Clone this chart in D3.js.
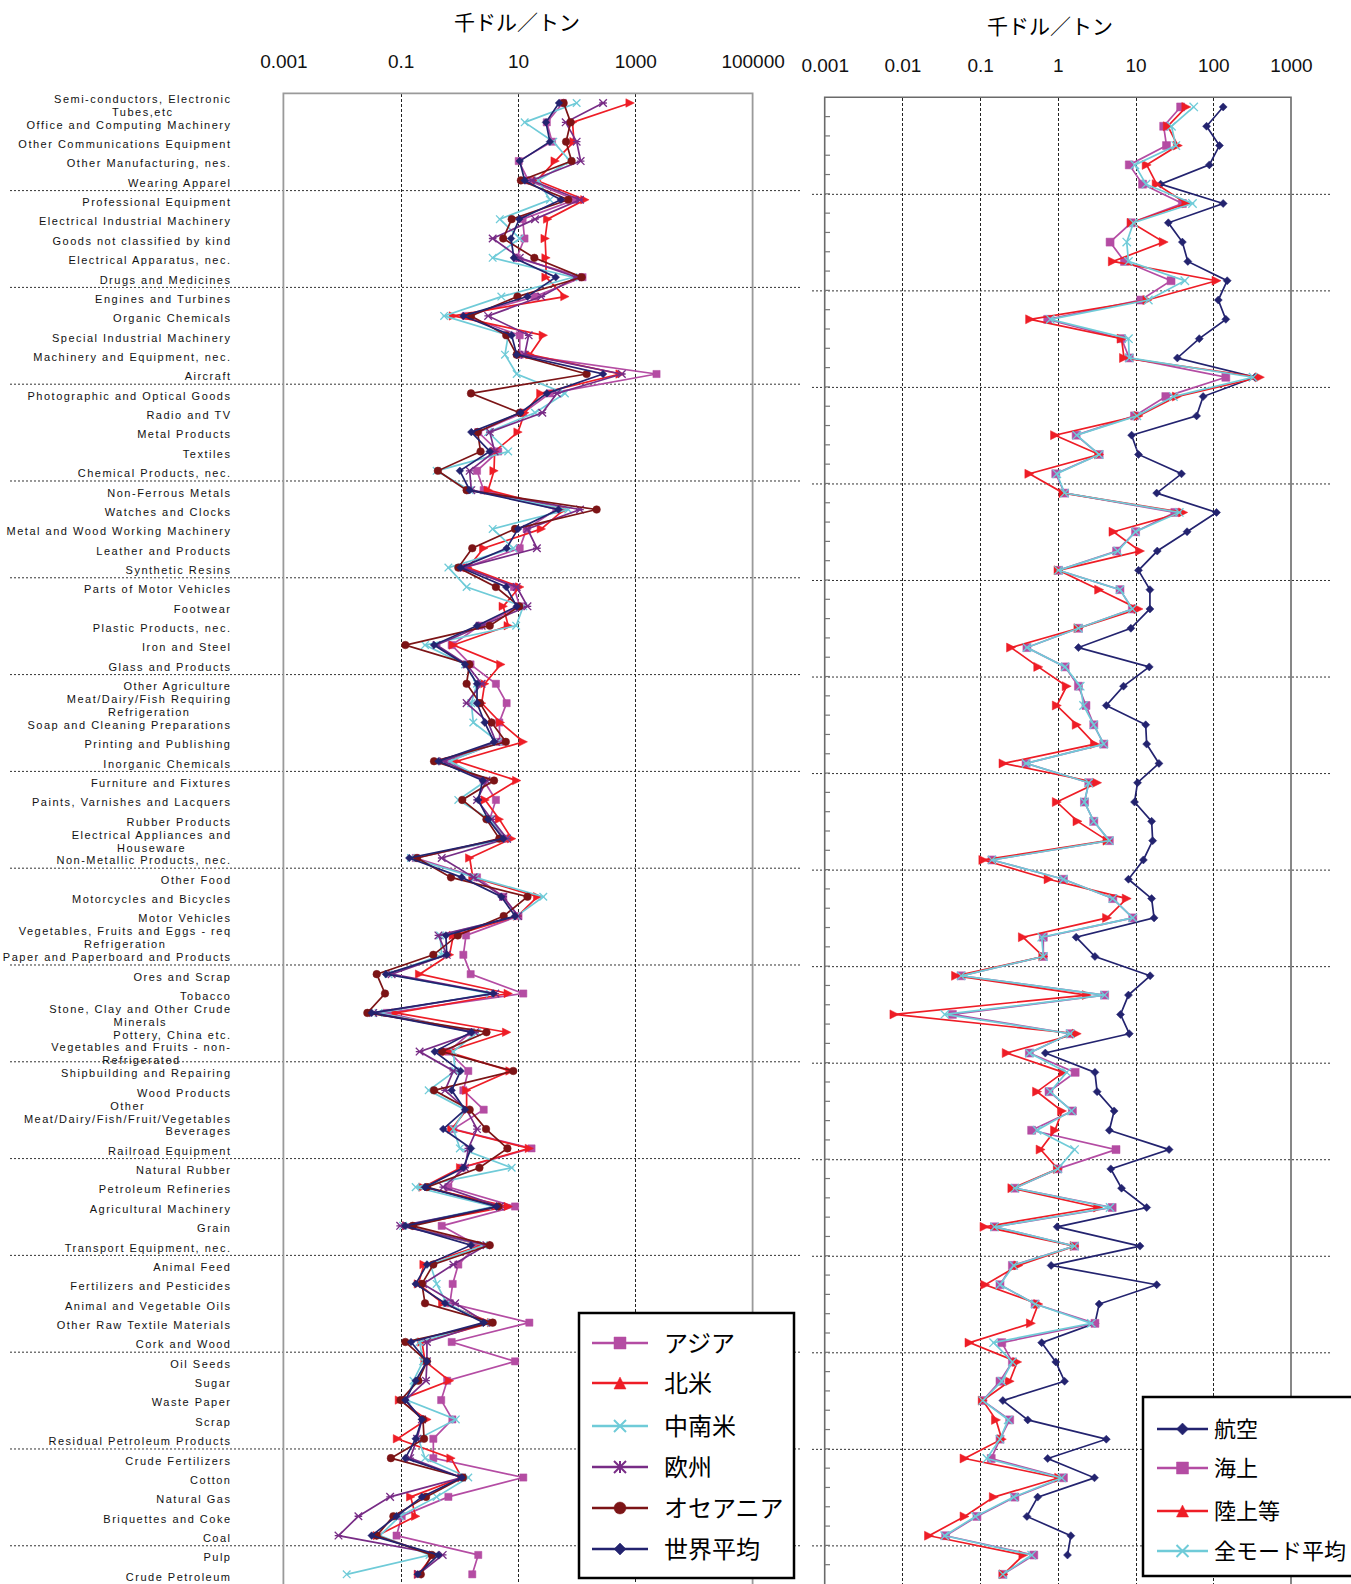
<!DOCTYPE html>
<html>
<head>
<meta charset="utf-8">
<script src="https://cdn.jsdelivr.net/npm/d3@7"></script>
<style>
  body { margin: 0; background: #fff; }
  svg text { font-family: "Liberation Sans", Arial, sans-serif; }
  .jp { font-family: "Noto Sans CJK JP", sans-serif; }
</style>
</head>
<body>
<div id="chart"></div>
<script>
//Categories (top to bottom), "\n" marks a wrapped label
var categories = [
  "Semi-conductors, Electronic\nTubes,etc", "Office and Computing Machinery", "Other Communications Equipment",
  "Other Manufacturing, nes.", "Wearing Apparel", "Professional Equipment", "Electrical Industrial Machinery",
  "Goods not classified by kind", "Electrical Apparatus, nec.", "Drugs and Medicines", "Engines and Turbines",
  "Organic Chemicals", "Special Industrial Machinery", "Machinery and Equipment, nec.", "Aircraft",
  "Photographic and Optical Goods", "Radio and TV", "Metal Products", "Textiles", "Chemical Products, nec.",
  "Non-Ferrous Metals", "Watches and Clocks", "Metal and Wood Working Machinery", "Leather and Products",
  "Synthetic Resins", "Parts of Motor Vehicles", "Footwear", "Plastic Products, nec.", "Iron and Steel",
  "Glass and Products", "Other Agriculture", "Meat/Dairy/Fish Requiring\nRefrigeration",
  "Soap and Cleaning Preparations", "Printing and Publishing", "Inorganic Chemicals", "Furniture and Fixtures",
  "Paints, Varnishes and Lacquers", "Rubber Products", "Electrical Appliances and\nHouseware",
  "Non-Metallic Products, nec.", "Other Food", "Motorcycles and Bicycles", "Motor Vehicles",
  "Vegetables, Fruits and Eggs - req\nRefrigeration", "Paper and Paperboard and Products", "Ores and Scrap",
  "Tobacco", "Stone, Clay and Other Crude\nMinerals", "Pottery, China etc.",
  "Vegetables and Fruits - non-\nRefrigerated", "Shipbuilding and Repairing", "Wood Products",
  "Other\nMeat/Dairy/Fish/Fruit/Vegetables", "Beverages", "Railroad Equipment", "Natural Rubber",
  "Petroleum Refineries", "Agricultural Machinery", "Grain", "Transport Equipment, nec.", "Animal Feed",
  "Fertilizers and Pesticides", "Animal and Vegetable Oils", "Other Raw Textile Materials", "Cork and Wood",
  "Oil Seeds", "Sugar", "Waste Paper", "Scrap", "Residual Petroleum Products", "Crude Fertilizers", "Cotton",
  "Natural Gas", "Briquettes and Coke", "Coal", "Pulp", "Crude Petroleum"
];

//Left panel: value per region (thousand dollars / ton)
var asia = [58, 31, 38, 10.3, 15, 94, 12, 12.9, 9.5, 126,
  19.4, 1.29, 10.7, 10.7, 2300, 35, 12.3, 2.1, 4.6, 2.0,
  2.6, 45, 14, 10.7, 1.25, 8.5, 10.7, 2.2, 0.74, 1.55,
  4.2, 6.4, 4.8, 4.9, 0.65, 2.6, 4.2, 3.3, 6.0, 0.18,
  2.0, 5.6, 10.2, 1.3, 1.17, 1.56, 12.3, 0.058, 1.58, 0.65,
  1.42, 1.17, 2.6, 0.79, 17, 1.1, 0.65, 8.9, 0.50, 2.0,
  0.96, 0.77, 0.69, 15.6, 0.74, 8.9, 0.62, 0.49, 0.76, 0.36,
  0.36, 12.3, 0.65, 0.104, 0.085, 2.1, 1.66];
var northAmerica = [815, 85, 90, 43, 21, 138, 32, 29, 30, 30,
  63, 0.79, 27, 16, 550, 24.5, 13, 10, 4.0, 3.9,
  3.1, 61, 25, 2.6, 1.4, 10.7, 5.6, 6.8, 0.79, 5.1,
  2.7, 2.4, 5.0, 12.3, 0.9, 9.5, 2.75, 4.8, 7.8, 1.5,
  1.7, 21.6, 9.8, 0.79, 0.68, 0.21, 6.8, 0.083, 6.4, 0.61,
  7.3, 1.33, 1.33, 0.74, 15.6, 1.05, 0.24, 6.8, 0.126, 2.4,
  0.25, 0.20, 0.52, 3.55, 0.23, 0.26, 0.68, 0.095, 0.28, 0.088,
  0.72, 1.1, 0.148, 0.18, 0.04, 0.36, 0.20];
var latinAmerica = [100, 13, 40, 77, 22, 35, 4.9, 10.7, 3.7, 88,
  5.2, 0.55, 6.8, 6.0, 9.5, 63, 19.5, 3.1, 6.8, 0.41,
  1.5, 72, 3.7, 8.3, 0.65, 1.33, 12.3, 9.3, 0.26, 1.25,
  2.0, 1.6, 1.73, 4.6, 0.69, 2.9, 0.96, 3.3, 6.5, 0.15,
  1.85, 27, 9.5, 0.47, 0.50, 0.062, 3.3, 0.042, 2.0, 0.79,
  0.85, 0.30, 1.25, 0.79, 1.02, 7.8, 0.18, 3.8, 0.11, 2.6,
  0.32, 0.41, 0.61, 2.75, 0.21, 0.24, 0.165, 0.126, 0.87, 0.20,
  0.26, 1.42, 0.41, 0.097, 0.044, 0.31, 0.012];
var europe = [282, 65, 100, 117, 17, 114, 19.5, 3.7, 10.7, 100,
  25, 3.1, 15.2, 13, 590, 46, 26, 3.3, 4.0, 1.5,
  1.6, 114, 14.5, 21, 1.17, 9.5, 14.5, 2.4, 0.41, 1.33,
  2.4, 1.33, 3.1, 4.2, 0.53, 2.9, 2.0, 3.55, 6.5, 0.50,
  1.75, 5.6, 10, 0.44, 0.61, 0.07, 4.1, 0.034, 1.85, 0.21,
  0.79, 0.57, 1.33, 2.0, 1.42, 1.25, 0.53, 4.9, 0.098, 2.9,
  0.79, 0.24, 0.85, 2.9, 0.28, 0.28, 0.27, 0.12, 0.23, 0.19,
  0.145, 1.1, 0.066, 0.019, 0.0087, 0.52, 0.20];
var oceania = [60, 79, 66, 82, 11.2, 72, 7.8, 5.6, 19, 122,
  9.8, 1.58, 6.3, 9.5, 148, 1.58, 10.7, 2.05, 2.3, 0.43,
  1.33, 219, 8.9, 1.66, 0.96, 4.2, 10.5, 3.3, 0.12, 1.48,
  1.33, 2.25, 3.55, 6.2, 0.37, 3.9, 1.12, 2.9, 4.8, 0.19,
  0.72, 14.5, 5.7, 0.94, 0.36, 0.039, 0.054, 0.027, 2.9, 0.50,
  8.3, 0.37, 1.5, 2.85, 6.6, 2.2, 0.28, 4.6, 0.16, 3.3,
  0.36, 0.23, 0.26, 3.7, 0.12, 0.28, 0.20, 0.1, 0.24, 0.25,
  0.068, 1.15, 0.27, 0.075, 0.039, 0.34, 0.22];
var worldAverage = [50, 30, 35, 10.7, 13, 54, 10.5, 7.6, 8.5, 44,
  14.5, 1.17, 7.8, 9.5, 282, 31, 11, 1.6, 3.3, 1.02,
  1.5, 49, 10, 6.4, 1.05, 6.3, 9.5, 2.0, 0.37, 1.25,
  2.0, 2.0, 2.7, 3.9, 0.44, 2.5, 2.1, 3.1, 5.6, 0.14,
  1.1, 5.2, 8.9, 0.59, 0.61, 0.056, 3.8, 0.032, 1.6, 0.38,
  1.05, 0.74, 1.25, 0.53, 1.58, 1.17, 0.26, 4.3, 0.119, 1.58,
  0.28, 0.18, 0.57, 2.6, 0.15, 0.28, 0.18, 0.12, 0.23, 0.18,
  0.12, 1.1, 0.23, 0.085, 0.032, 0.44, 0.195];

//Right panel: value per transport mode
var air = [134, 82, 120, 89, 21, 134, 26.4, 40, 47, 151,
  116, 145, 66, 34.5, 343, 74, 61, 8.9, 10.9, 39,
  18.7, 110, 46, 19, 10.9, 15.3, 15.3, 8.7, 1.84, 15,
  7.0, 4.2, 13.5, 13.9, 20, 10.6, 9.7, 16.1, 16.6, 12.6,
  8.1, 16.1, 17.3, 1.72, 3.0, 15.4, 8.1, 6.4, 8.3, 0.69,
  3.0, 3.2, 5.3, 4.6, 27, 4.8, 6.6, 13.9, 0.98, 11.4,
  0.82, 18.7, 3.4, 3.0, 0.62, 0.94, 1.22, 0.196, 0.41, 4.2,
  0.74, 2.96, 0.55, 0.40, 1.47, 1.33, null];
var sea = [38, 23, 25, 8.3, 12.3, 40, 8.8, 4.7, 7.2, 28.6,
  11.7, 0.74, 6.6, 8.3, 145, 24.5, 9.7, 1.72, 3.4, 0.94,
  1.22, 32, 10, 5.7, 1.02, 6.3, 9.1, 1.84, 0.40, 1.24,
  1.84, 2.3, 2.9, 3.9, 0.39, 2.5, 2.2, 2.9, 4.6, 0.142,
  1.18, 5.1, 9.2, 0.65, 0.65, 0.057, 4.0, 0.044, 1.44, 0.43,
  1.67, 0.77, 1.54, 0.46, 5.6, 1.0, 0.28, 5.0, 0.153, 1.64,
  0.26, 0.18, 0.51, 3.0, 0.19, 0.26, 0.18, 0.108, 0.24, 0.18,
  0.139, 1.18, 0.28, 0.091, 0.036, 0.49, 0.196];
var land = [45, 26, 35, 13.9, 18.7, 45, 8.9, 23, 5.1, 110,
  14.2, 0.44, 6.6, 7.1, 398, 34, 10.9, 0.92, 3.4, 0.43,
  1.18, 41, 5.2, 11.4, 1.02, 3.4, 10.9, 1.84, 0.25, 0.56,
  1.3, 0.97, 1.75, 3.0, 0.20, 3.2, 0.97, 1.79, 4.35, 0.11,
  0.76, 7.7, 4.3, 0.355, 0.65, 0.049, 2.36, 0.0079, 1.75, 0.22,
  1.18, 0.54, 1.13, 0.92, 0.60, 1.0, 0.26, 3.3, 0.114, 1.64,
  0.31, 0.116, 0.56, 0.45, 0.073, 0.30, 0.24, 0.108, 0.16, 0.19,
  0.063, 1.04, 0.15, 0.063, 0.022, 0.36, 0.20];
var allModes = [56, 29, 33, 9.8, 13.6, 54, 9.4, 7.7, 8.1, 43,
  14.6, 0.80, 8.1, 8.3, 325, 30.7, 10.4, 1.75, 3.4, 0.97,
  1.22, 36.5, 10, 5.9, 1.02, 6.3, 9.1, 1.84, 0.40, 1.24,
  1.94, 2.14, 2.9, 3.9, 0.39, 2.5, 2.2, 2.9, 4.6, 0.142,
  1.18, 5.1, 9.2, 0.62, 0.65, 0.057, 4.0, 0.035, 1.44, 0.43,
  1.3, 0.80, 1.5, 0.54, 1.64, 1.0, 0.28, 4.7, 0.153, 1.64,
  0.27, 0.18, 0.51, 2.7, 0.149, 0.26, 0.19, 0.108, 0.23, 0.18,
  0.122, 1.12, 0.27, 0.087, 0.035, 0.46, 0.196];

//Tick values
var leftTicks = [0.001, 0.1, 10, 1000, 100000];
var leftGrid = [0.1, 10, 1000];
var rightTicks = [0.001, 0.01, 0.1, 1, 10, 100, 1000];
var rightGrid = [0.01, 0.1, 1, 10, 100];
var unitLabel = "千ドル／トン";

//Series tables
var leftSeries = [
  {name: "アジア", values: asia, color: "#B44CA3", marker: "square"},
  {name: "北米", values: northAmerica, color: "#EE1D26", marker: "triangle"},
  {name: "中南米", values: latinAmerica, color: "#6FCBD8", marker: "x"},
  {name: "欧州", values: europe, color: "#782C86", marker: "asterisk"},
  {name: "オセアニア", values: oceania, color: "#7C1416", marker: "circle"},
  {name: "世界平均", values: worldAverage, color: "#23236F", marker: "diamond"}
];
var rightSeries = [
  {name: "航空", values: air, color: "#23236F", marker: "diamond"},
  {name: "海上", values: sea, color: "#B44CA3", marker: "square"},
  {name: "陸上等", values: land, color: "#EE1D26", marker: "triangle"},
  {name: "全モード平均", values: allModes, color: "#6FCBD8", marker: "x"}
];

var svgWidth = 1351;
var svgHeight = 1584;

var svg = d3.select("#chart")
  .append("svg")
  .attr("width", svgWidth)
  .attr("height", svgHeight);

//Scales
var leftX = d3.scaleLog().domain([0.001, 100000]).range([283.4, 752.6]);
var leftY = d3.scaleBand().domain(d3.range(categories.length)).range([93.3, 1584]);
var rightX = d3.scaleLog().domain([0.001, 1000]).range([824.7, 1291]);
var rightY = d3.scaleBand().domain(d3.range(categories.length)).range([97.3, 1584]);

//Marker shapes (s = half size); inPlot triangles point right like the rotated chart
function markerPath(type, s, inPlot) {
  if (type === "square") return "M" + (-s) + "," + (-s) + "h" + 2 * s + "v" + 2 * s + "h" + (-2 * s) + "Z";
  if (type === "triangle") {
    return inPlot ? "M" + (-s) + "," + (-s) + "L" + s + ",0L" + (-s) + "," + s + "Z"
                  : "M0," + (-s) + "L" + s + "," + s + "L" + (-s) + "," + s + "Z";
  }
  if (type === "diamond") return "M0," + (-s) + "L" + s + ",0L0," + s + "L" + (-s) + ",0Z";
  if (type === "x") return "M" + (-s) + "," + (-s) + "L" + s + "," + s + "M" + (-s) + "," + s + "L" + s + "," + (-s);
  if (type === "asterisk") {
    var x = "M" + (-s) + "," + (-s) + "L" + s + "," + s + "M" + (-s) + "," + s + "L" + s + "," + (-s);
    return inPlot ? x + "M" + (-s) + ",0L" + s + ",0" : x + "M0," + (-s) + "L0," + s;
  }
  return d3.symbol().type(d3.symbolCircle).size(Math.PI * s * s)();
}
var strokeOnly = {x: true, asterisk: true};

function drawPanel(series, xScale, yScale, sizes) {
  var g = svg.append("g");
  series.forEach(function(s) {
    var line = d3.line()
      .defined(function(d) { return d != null; })
      .x(function(d) { return xScale(d); })
      .y(function(d, i) { return yScale(i) + yScale.bandwidth() / 2; });
    g.append("path")
      .datum(s.values)
      .attr("fill", "none")
      .attr("stroke", s.color)
      .attr("stroke-width", 1.7)
      .attr("d", line);
    var pts = s.values.map(function(v, i) { return {v: v, i: i}; }).filter(function(p) { return p.v != null; });
    g.append("g").selectAll("path")
      .data(pts)
      .enter()
      .append("path")
      .attr("transform", function(p) { return "translate(" + xScale(p.v) + "," + (yScale(p.i) + yScale.bandwidth() / 2) + ")"; })
      .attr("d", markerPath(s.marker, sizes[s.marker], true))
      .attr("fill", strokeOnly[s.marker] ? "none" : s.color)
      .attr("stroke", s.color)
      .attr("stroke-width", strokeOnly[s.marker] ? 1.3 : 0.5);
  });
}

//Horizontal separators every five categories
var sepIdx = d3.range(5, categories.length, 5);
svg.append("g").selectAll("line")
  .data(sepIdx)
  .enter()
  .append("line")
  .attr("x1", 10).attr("x2", 800)
  .attr("y1", function(i) { return leftY(i) + 0.5; })
  .attr("y2", function(i) { return leftY(i) + 0.5; })
  .attr("stroke", "#333").attr("stroke-width", 1).attr("stroke-dasharray", "2,2");
svg.append("g").selectAll("line")
  .data(sepIdx)
  .enter()
  .append("line")
  .attr("x1", 812).attr("x2", 1332)
  .attr("y1", function(i) { return rightY(i) + 0.5; })
  .attr("y2", function(i) { return rightY(i) + 0.5; })
  .attr("stroke", "#333").attr("stroke-width", 1).attr("stroke-dasharray", "2,2");

//Vertical gridlines
svg.append("g").selectAll("line")
  .data(leftGrid)
  .enter()
  .append("line")
  .attr("x1", function(d) { return Math.round(leftX(d)) + 0.5; })
  .attr("x2", function(d) { return Math.round(leftX(d)) + 0.5; })
  .attr("y1", 94).attr("y2", 1584)
  .attr("stroke", "#222").attr("stroke-dasharray", "3,2");
svg.append("g").selectAll("line")
  .data(rightGrid)
  .enter()
  .append("line")
  .attr("x1", function(d) { return Math.round(rightX(d)) + 0.5; })
  .attr("x2", function(d) { return Math.round(rightX(d)) + 0.5; })
  .attr("y1", 98).attr("y2", 1584)
  .attr("stroke", "#222").attr("stroke-dasharray", "3,2");

//Plot borders
svg.append("path")
  .attr("d", "M283.4,1584V93.3H752.6V1584")
  .attr("fill", "none").attr("stroke", "#9a9a9a").attr("stroke-width", 1.8);
svg.append("path")
  .attr("d", "M824.7,1584V97.3H1291V1584")
  .attr("fill", "none").attr("stroke", "#6a6a6a").attr("stroke-width", 1.6);

//Right panel category ticks
svg.append("g").selectAll("line")
  .data(d3.range(1, categories.length))
  .enter()
  .append("line")
  .attr("x1", 824.7).attr("x2", 830)
  .attr("y1", function(i) { return rightY(i); })
  .attr("y2", function(i) { return rightY(i); })
  .attr("stroke", "#777").attr("stroke-width", 1.2);

//Top tick labels
var fmt = function(d) { return String(d); };
var leftAxis = svg.append("g")
  .attr("transform", "translate(0,93.3)")
  .call(d3.axisTop(leftX).tickValues(leftTicks).tickFormat(fmt).tickSize(0).tickPadding(25));
var rightAxis = svg.append("g")
  .attr("transform", "translate(0,97.3)")
  .call(d3.axisTop(rightX).tickValues(rightTicks).tickFormat(fmt).tickSize(0).tickPadding(25));
[leftAxis, rightAxis].forEach(function(a) {
  a.select(".domain").remove();
  a.selectAll("text")
    .attr("font-family", "'Liberation Sans', Arial, sans-serif")
    .attr("font-size", 19)
    .attr("fill", "#111");
});

//Unit titles
svg.append("text").attr("class", "jp")
  .attr("x", 517).attr("y", 30)
  .attr("text-anchor", "middle").attr("font-size", 21)
  .text(unitLabel);
svg.append("text").attr("class", "jp")
  .attr("x", 1050).attr("y", 34)
  .attr("text-anchor", "middle").attr("font-size", 21)
  .text(unitLabel);

//Category labels
var labelRight = 231.5;
var labels = svg.append("g")
  .attr("font-size", 11)
  .attr("letter-spacing", "1.5px")
  .attr("fill", "#111");
categories.forEach(function(c, i) {
  var lines = c.split("\n");
  var cy = leftY(i) + leftY.bandwidth() / 2 + 2.5;
  var t = labels.append("text");
  var lineH = 13;
  lines.forEach(function(l, k) {
    t.append("tspan")
      .attr("y", cy + (k - (lines.length - 1) / 2) * lineH)
      .attr("dy", "0.35em")
      .text(l);
  });
  if (lines.length === 1) {
    t.attr("text-anchor", "end").selectAll("tspan").attr("x", labelRight);
  } else {
    var w = 0;
    t.selectAll("tspan").each(function() { w = Math.max(w, this.getComputedTextLength()); });
    t.attr("text-anchor", "middle").selectAll("tspan").attr("x", labelRight - w / 2);
  }
});

//Data
drawPanel(leftSeries, leftX, leftY, {square: 3.6, triangle: 4.2, x: 3.8, asterisk: 3.8, circle: 3.8, diamond: 3.8});
drawPanel(rightSeries, rightX, rightY, {square: 4, triangle: 4.5, x: 4.2, diamond: 4});

//Legends
function drawLegend(series, box, rowYs, lineX, textX, fontSize, sizes) {
  var g = svg.append("g");
  g.append("rect")
    .attr("x", box.x).attr("y", box.y).attr("width", box.w).attr("height", box.h)
    .attr("fill", "#fff").attr("stroke", "#000").attr("stroke-width", 2.5);
  series.forEach(function(s, k) {
    var y = rowYs[k];
    g.append("line")
      .attr("x1", lineX[0]).attr("x2", lineX[1]).attr("y1", y).attr("y2", y)
      .attr("stroke", s.color).attr("stroke-width", 2.5);
    g.append("path")
      .attr("transform", "translate(" + (lineX[0] + lineX[1]) / 2 + "," + y + ")")
      .attr("d", markerPath(s.marker, sizes, false))
      .attr("fill", strokeOnly[s.marker] ? "none" : s.color)
      .attr("stroke", s.color)
      .attr("stroke-width", strokeOnly[s.marker] ? 2 : 0.5);
    g.append("text").attr("class", "jp")
      .attr("x", textX).attr("y", y).attr("dy", "0.36em")
      .attr("font-size", fontSize).attr("fill", "#000")
      .text(s.name);
  });
}
drawLegend(leftSeries, {x: 579, y: 1313, w: 215, h: 265},
  [1343, 1383, 1426, 1467, 1508, 1549], [592, 648], 664, 24, 6);
drawLegend(rightSeries, {x: 1143, y: 1397, w: 215, h: 179},
  [1429, 1468, 1511, 1551], [1157, 1208], 1214, 22, 6);
</script>
</body>
</html>
